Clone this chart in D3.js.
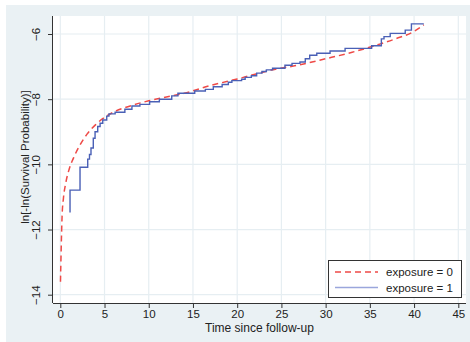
<!DOCTYPE html>
<html>
<head>
<meta charset="utf-8">
<script src="https://cdn.jsdelivr.net/npm/d3@7"></script>
<style>
  body { margin: 0; background: #fff; }
  svg { display: block; font-family: "Liberation Sans", Arial, sans-serif; }
</style>
</head>
<body>
<svg id="chart" width="470" height="342"></svg>
<script>
// ticks
const xTicks = [0, 5, 10, 15, 20, 25, 30, 35, 40, 45];
const yTicks = [-14, -12, -10, -8, -6];

// exposure = 0 : fitted curve (time, value)
const fitTime = [0.02, 0.1, 0.2, 0.35, 0.6, 1, 1.5, 2.2, 3, 4, 5, 6, 8, 10, 12, 14, 17, 20, 24, 27, 30, 33, 36, 38, 40, 41.1];
const fitValue = [-13.6, -12.6, -11.6, -11.05, -10.6, -10.15, -9.8, -9.42, -9.08, -8.78, -8.56, -8.4, -8.2, -8.05, -7.93, -7.82, -7.58, -7.38, -7.1, -6.95, -6.76, -6.56, -6.32, -6.14, -5.92, -5.72];

// exposure = 1 : step estimate (time of jump, value after jump)
const stepTime = [1.1, 1.1, 2.23, 3.1, 3.3, 3.47, 3.73, 3.93, 4.23, 4.5, 4.8, 5.25, 5.5, 6.2, 7.3, 8.1, 9.0, 10.1, 11.2, 12.6, 13.3, 15.2, 16.4, 17.3, 18.3, 19.0, 19.4, 20.5, 20.9, 21.6, 22.2, 22.8, 23.3, 24.0, 25.4, 26.2, 27.1, 27.7, 28.2, 29.0, 30.5, 32.2, 35.2, 36.3, 36.6, 37.3, 39.0, 39.7, 41.1];
const stepValue = [-11.48, -10.79, -10.09, -9.84, -9.7, -9.5, -9.2, -9.0, -8.84, -8.74, -8.64, -8.52, -8.45, -8.4, -8.31, -8.21, -8.16, -8.08, -8.0, -7.9, -7.82, -7.75, -7.7, -7.62, -7.55, -7.48, -7.43, -7.39, -7.33, -7.28, -7.2, -7.15, -7.1, -7.05, -6.96, -6.9, -6.86, -6.76, -6.65, -6.59, -6.52, -6.44, -6.36, -6.15, -6.08, -5.98, -5.88, -5.69, -5.69];

const seriesNames = ['exposure = 0', 'exposure = 1'];
const redColor = '#ee4a47';
const blueColor = '#4a60b6';

const svg = d3.select('#chart');

// outer background
svg.append('rect').attr('x', 6).attr('y', 5).attr('width', 464).attr('height', 337).attr('fill', '#eaf1f4');

const plot = { left: 53, right: 466, top: 16, bottom: 303 };
svg.append('rect')
  .attr('x', plot.left).attr('y', plot.top)
  .attr('width', plot.right - plot.left).attr('height', plot.bottom - plot.top)
  .attr('fill', '#fff');

const x = d3.scaleLinear().domain([0, 45]).range([60.3, 458.3]);
const y = d3.scaleLinear().domain([-14, -6]).range([294.7, 34]);

// grid lines
svg.append('g').selectAll('line').data(xTicks).enter().append('line')
  .attr('x1', d => x(d)).attr('x2', d => x(d))
  .attr('y1', plot.top).attr('y2', plot.bottom)
  .attr('stroke', '#e6eef2').attr('stroke-width', 1.2);
svg.append('g').selectAll('line').data(yTicks).enter().append('line')
  .attr('x1', plot.left).attr('x2', plot.right)
  .attr('y1', d => y(d)).attr('y2', d => y(d))
  .attr('stroke', '#e6eef2').attr('stroke-width', 1.2);

// axes
const xAxis = svg.append('g')
  .attr('transform', 'translate(0,' + plot.bottom + ')')
  .call(d3.axisBottom(x).tickValues(xTicks).tickSize(5).tickPadding(2));
xAxis.select('.domain').attr('d', 'M' + plot.left + ',0.5H' + plot.right);
xAxis.selectAll('text').attr('font-size', 11.5).attr('fill', '#222');

const yAxis = svg.append('g')
  .attr('transform', 'translate(' + plot.left + ',0)')
  .call(d3.axisLeft(y).tickValues(yTicks).tickSize(5).tickPadding(4).tickFormat(d3.format('d')));
yAxis.select('.domain').attr('d', 'M-0.5,' + plot.top + 'V' + plot.bottom);
yAxis.selectAll('text')
  .attr('font-size', 11.5).attr('fill', '#222')
  .attr('transform', 'rotate(-90)')
  .attr('x', 0).attr('y', -13)
  .attr('dy', 0)
  .style('text-anchor', 'middle');
svg.selectAll('.domain, .tick line').attr('stroke', '#333');

// axis titles
svg.append('text')
  .attr('x', (plot.left + plot.right) / 2).attr('y', 332)
  .attr('text-anchor', 'middle').attr('font-size', 12).attr('fill', '#222')
  .text('Time since follow-up');
svg.append('text')
  .attr('transform', 'translate(29,157)rotate(-90)')
  .attr('text-anchor', 'middle').attr('font-size', 11.5).attr('fill', '#222')
  .text('ln[-ln(Survival Probability)]');

// fitted curve
const fitData = fitTime.map((t, i) => [t, fitValue[i]]);
svg.append('path')
  .datum(fitData)
  .attr('fill', 'none')
  .attr('stroke', redColor)
  .attr('stroke-width', 1.5)
  .attr('stroke-dasharray', '6,4')
  .attr('d', d3.line().x(d => x(d[0])).y(d => y(d[1])).curve(d3.curveMonotoneX));

// step curve
const stepData = stepTime.map((t, i) => [t, stepValue[i]]);
svg.append('path')
  .datum(stepData)
  .attr('fill', 'none')
  .attr('stroke', blueColor)
  .attr('stroke-width', 1.4)
  .attr('d', d3.line().x(d => x(d[0])).y(d => y(d[1])).curve(d3.curveStepAfter));

// legend
const legend = svg.append('g');
legend.append('rect')
  .attr('x', 328.5).attr('y', 260.5).attr('width', 133).attr('height', 37)
  .attr('fill', '#fff').attr('stroke', '#333').attr('stroke-width', 1);
seriesNames.forEach((name, i) => {
  const ly = 272 + i * 15.5;
  legend.append('line')
    .attr('x1', 335).attr('x2', 378).attr('y1', ly).attr('y2', ly)
    .attr('stroke', i === 0 ? redColor : '#9aa6dc')
    .attr('stroke-width', 1.5)
    .attr('stroke-dasharray', i === 0 ? '6,4' : null);
  legend.append('text')
    .attr('x', 386).attr('y', ly + 4)
    .attr('font-size', 11.5).attr('fill', '#222')
    .text(name);
});
</script>
</body>
</html>
